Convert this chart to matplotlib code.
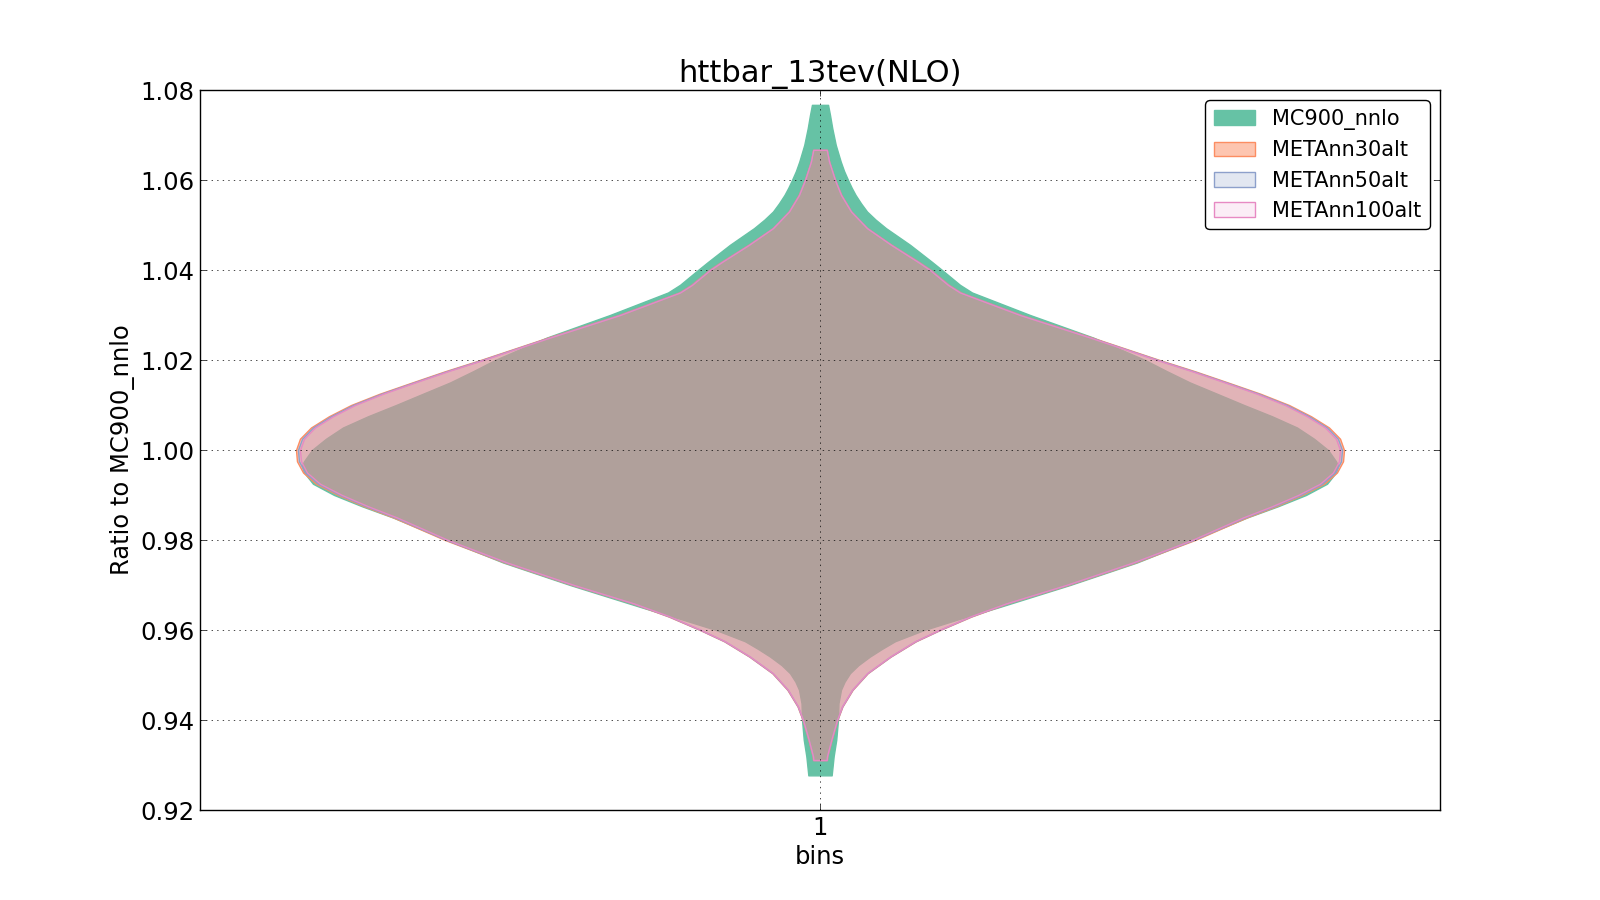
import matplotlib
matplotlib.use("Agg")
import matplotlib.pyplot as plt
from matplotlib.colors import to_rgba

# ---- data (ratio value, violin half-width in x-data units) ----
labels = ["MC900_nnlo", "METAnn30alt", "METAnn50alt", "METAnn100alt"]
colors = ["#66c2a5", "#fc8d62", "#8da0cb", "#e78ac3"]
face_alpha = [1.0, 0.5, 0.25, 0.15]

y_mc900 = [0.9277, 0.9319, 0.9356, 0.9400, 0.9437, 0.9467, 0.9485, 0.9504, 0.9522, 0.9541,
           0.9558, 0.9575, 0.9600, 0.9625, 0.9650, 0.9700, 0.9750, 0.9800, 0.9850, 0.9875,
           0.9900, 0.9925, 0.9950, 0.9965, 0.9975, 1.0000, 1.0025, 1.0050, 1.0075, 1.0100,
           1.0125, 1.0150, 1.0175, 1.0200, 1.0250, 1.0300, 1.0350, 1.0367, 1.0400, 1.0418,
           1.0456, 1.0493, 1.0512, 1.0530, 1.0548, 1.0567, 1.0583, 1.0600, 1.0620, 1.0641,
           1.0678, 1.0715, 1.0744, 1.0767]
w_mc900 = [0.0094, 0.0110, 0.0131, 0.0145, 0.0149, 0.0169, 0.0198, 0.0242, 0.0310, 0.0403,
           0.0500, 0.0605, 0.0839, 0.1129, 0.1435, 0.2016, 0.2556, 0.3008, 0.3444, 0.3694,
           0.3919, 0.4089, 0.4161, 0.4177, 0.4161, 0.4097, 0.3984, 0.3847, 0.3645, 0.3419,
           0.3202, 0.2984, 0.2798, 0.2621, 0.2202, 0.1694, 0.1226, 0.1129, 0.0984, 0.0903,
           0.0726, 0.0532, 0.0448, 0.0379, 0.0331, 0.0286, 0.0255, 0.0226, 0.0194, 0.0167,
           0.0127, 0.0099, 0.0081, 0.0065]

y_alt = [0.9311, 0.9319, 0.9356, 0.9400, 0.9430, 0.9467, 0.9504, 0.9541, 0.9575, 0.9600,
         0.9630, 0.9659, 0.9700, 0.9750, 0.9800, 0.9850, 0.9875, 0.9900, 0.9925, 0.9950,
         0.9975, 1.0000, 1.0025, 1.0050, 1.0075, 1.0100, 1.0125, 1.0150, 1.0175, 1.0200,
         1.0250, 1.0300, 1.0350, 1.0367, 1.0400, 1.0418, 1.0456, 1.0493, 1.0530, 1.0567,
         1.0600, 1.0641, 1.0667]
w_30alt = [0.0056, 0.0059, 0.0094, 0.0140, 0.0181, 0.0263, 0.0385, 0.0571, 0.0774, 0.0968,
           0.1222, 0.1512, 0.2000, 0.2544, 0.3024, 0.3440, 0.3677, 0.3887, 0.4065, 0.4169,
           0.4218, 0.4226, 0.4194, 0.4105, 0.3960, 0.3782, 0.3552, 0.3290, 0.3024, 0.2738,
           0.2194, 0.1625, 0.1137, 0.1040, 0.0895, 0.0798, 0.0578, 0.0383, 0.0253, 0.0172,
           0.0123, 0.0074, 0.0056]
w_50alt = [0.0055, 0.0057, 0.0092, 0.0138, 0.0179, 0.0260, 0.0382, 0.0568, 0.0770, 0.0964,
           0.1216, 0.1506, 0.1992, 0.2534, 0.3012, 0.3425, 0.3661, 0.3871, 0.4048, 0.4153,
           0.4202, 0.4210, 0.4177, 0.4089, 0.3944, 0.3766, 0.3538, 0.3278, 0.3012, 0.2728,
           0.2185, 0.1619, 0.1133, 0.1036, 0.0891, 0.0794, 0.0575, 0.0381, 0.0252, 0.0170,
           0.0122, 0.0073, 0.0055]
w_100alt = [0.0054, 0.0056, 0.0091, 0.0137, 0.0177, 0.0258, 0.0379, 0.0565, 0.0766, 0.0960,
            0.1210, 0.1500, 0.1984, 0.2524, 0.3000, 0.3411, 0.3645, 0.3855, 0.4032, 0.4137,
            0.4185, 0.4194, 0.4161, 0.4073, 0.3927, 0.3750, 0.3524, 0.3266, 0.3000, 0.2718,
            0.2177, 0.1613, 0.1129, 0.1032, 0.0887, 0.0790, 0.0573, 0.0379, 0.0250, 0.0169,
            0.0121, 0.0073, 0.0054]

position = 1
xtick_labels = ["1"]
yticks = [0.92, 0.94, 0.96, 0.98, 1.00, 1.02, 1.04, 1.06, 1.08]

# ---- styling (classic look) ----
plt.rcParams.update({
    "font.family": ["DejaVu Sans"],
    "xtick.direction": "in",
    "ytick.direction": "in",
    "xtick.top": True,
    "ytick.right": True,
    "xtick.major.size": 4,
    "ytick.major.size": 4,
    "xtick.major.width": 0.5,
    "ytick.major.width": 0.5,
    "xtick.major.pad": 4,
    "ytick.major.pad": 4,
    "axes.linewidth": 1.0,
})

fig = plt.figure(figsize=(16, 9), dpi=100, facecolor="white")
ax = fig.add_axes([0.125, 0.1, 0.775, 0.8])

series = [(y_mc900, w_mc900), (y_alt, w_30alt), (y_alt, w_50alt), (y_alt, w_100alt)]
handles = []
for (ys, ws), col, a, lab in zip(series, colors, face_alpha, labels):
    left = [position - w for w in ws]
    right = [position + w for w in ws]
    h = ax.fill_betweenx(ys, left, right, facecolor=to_rgba(col, a),
                         edgecolor=col, linewidth=1.0, label=lab, zorder=2)
    handles.append(h)

ax.set_xlim(0.5, 1.5)
ax.set_ylim(0.92, 1.08)
ax.set_xticks([position])
ax.set_xticklabels(xtick_labels)
ax.set_yticks(yticks)
ax.set_yticklabels([f"{v:.2f}" for v in yticks])
ax.tick_params(labelsize=17.5)

ax.grid(True, color="k", linestyle=(0, (2, 6)), linewidth=0.5)
ax.set_axisbelow(False)
for gl in ax.get_xgridlines() + ax.get_ygridlines():
    gl.set_zorder(3)

ax.set_title("httbar_13tev(NLO)", fontsize=22)
ax.set_xlabel("bins", fontsize=17.5)
ax.set_ylabel("Ratio to MC900_nnlo", fontsize=17.5)

leg = ax.legend(handles=handles, loc="upper right", fontsize=15, fancybox=True,
                framealpha=1.0, edgecolor="black", borderaxespad=0.5)
leg.get_frame().set_linewidth(1.0)

fig.savefig("out.png", dpi=100, facecolor="white")
